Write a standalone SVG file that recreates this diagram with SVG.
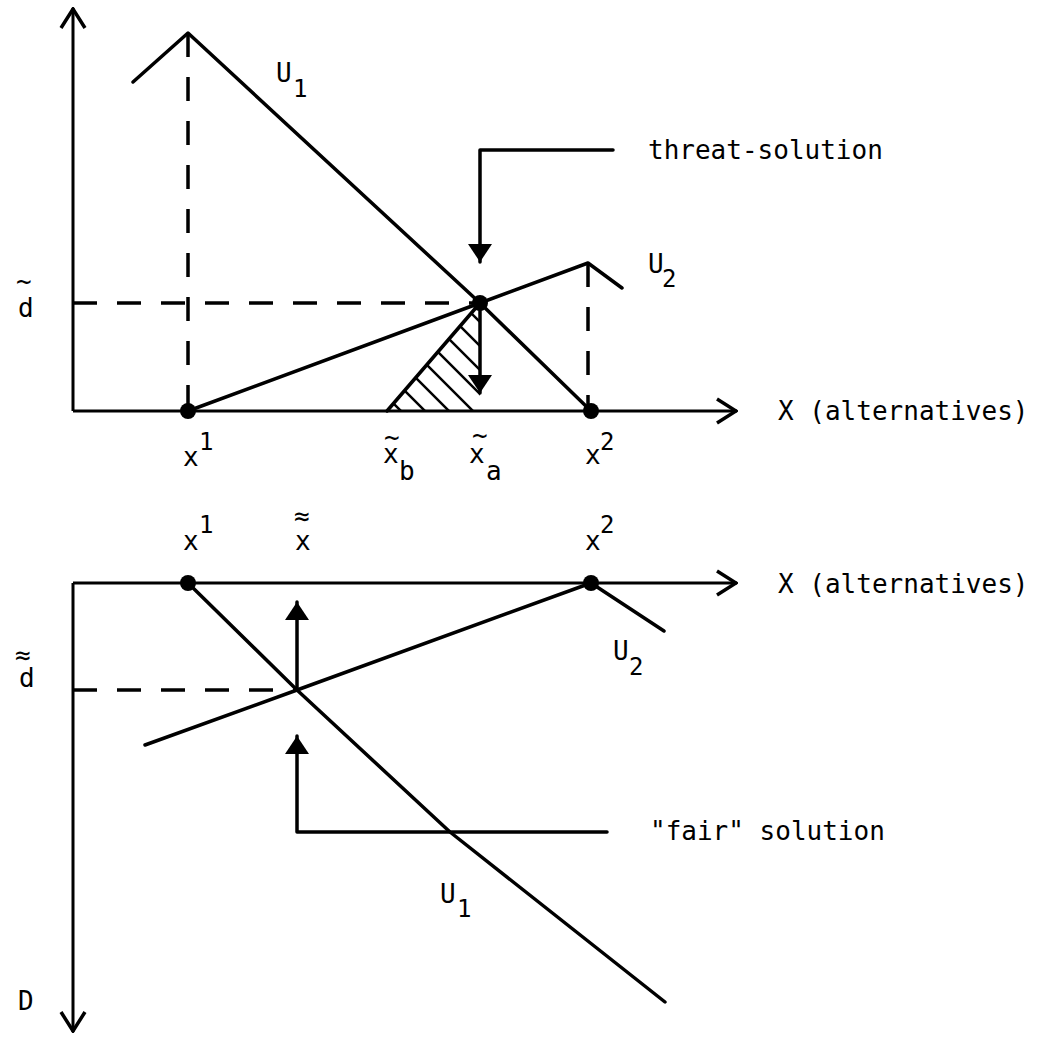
<svg xmlns="http://www.w3.org/2000/svg" width="1038" height="1044" viewBox="0 0 1038 1044">
<style>
.ln{stroke:#000;stroke-width:3.5;fill:none;stroke-linecap:round;stroke-linejoin:round}
.ax{stroke:#000;stroke-width:3;fill:none}
.ds{stroke:#000;stroke-width:3.5;fill:none;stroke-dasharray:24 20}
.th{stroke:#000;stroke-width:2.5;fill:none}
.dot{fill:#000}
text{font-family:"DejaVu Sans Mono","Liberation Mono",monospace;font-size:26px;fill:#000}
.sub{font-size:24px}
</style>
<defs>
<marker id="open" viewBox="0 0 22 28" refX="21" refY="14" markerWidth="22" markerHeight="28" markerUnits="userSpaceOnUse" orient="auto">
<path d="M1,2 L20,14 L1,26" stroke="#000" stroke-width="3.5" fill="none"/>
</marker>
<marker id="fill" viewBox="0 0 18 24" refX="18" refY="12" markerWidth="18" markerHeight="24" markerUnits="userSpaceOnUse" orient="auto">
<path d="M0,0 L18,12 L0,24 Z" fill="#000"/>
</marker>
<clipPath id="tri"><polygon points="387,411 480,303 480,411"/></clipPath>
</defs>
<rect width="1038" height="1044" fill="#fff"/>

<g id="top-chart">
<g id="top-axes">
<line class="ax" x1="73" y1="411" x2="73" y2="8" marker-end="url(#open)"/>
<line class="ax" x1="73" y1="411" x2="737" y2="411" marker-end="url(#open)"/>
</g>
<g id="top-dashes">
<line class="ds" x1="188" y1="33" x2="188" y2="411"/>
<line class="ds" x1="73" y1="303" x2="480" y2="303"/>
<line class="ds" x1="588" y1="263" x2="588" y2="411"/>
</g>
<g id="top-hatch" clip-path="url(#tri)">
<line class="th" x1="350" y1="360" x2="460" y2="470"/>
<line class="th" x1="350" y1="336" x2="484" y2="470"/>
<line class="th" x1="350" y1="312" x2="508" y2="470"/>
<line class="th" x1="350" y1="288" x2="532" y2="470"/>
<line class="th" x1="350" y1="264" x2="556" y2="470"/>
<line class="th" x1="350" y1="240" x2="580" y2="470"/>
<line class="th" x1="350" y1="216" x2="604" y2="470"/>
<line class="th" x1="350" y1="192" x2="628" y2="470"/>
</g>
<line class="ln" x1="387" y1="411" x2="480" y2="303"/>
<polyline id="top-U1" class="ln" points="133,82 188,33 480,303 591,411"/>
<polyline id="top-U2" class="ln" points="188,411 480,303 588,263 622,288"/>
<g id="top-points">
<circle class="dot" cx="188" cy="411" r="8"/>
<circle class="dot" cx="480" cy="303" r="8"/>
<circle class="dot" cx="591" cy="411" r="8"/>
</g>
<g id="threat-callout">
<polyline class="ln" points="613,150 480,150 480,262" marker-end="url(#fill)"/>
<line class="ln" x1="480" y1="303" x2="480" y2="393" marker-end="url(#fill)"/>
<text x="648" y="159">threat-solution</text>
</g>
<g id="top-labels">
<text><tspan x="276" y="82">U</tspan><tspan class="sub" x="293" y="97">1</tspan></text>
<text><tspan x="648" y="273">U</tspan><tspan class="sub" x="662" y="287">2</tspan></text>
<text x="16 18" y="290 317">~d</text>
<text><tspan x="183" y="466">x</tspan><tspan class="sub" x="199" y="450">1</tspan></text>
<text x="384 383 399" y="446 463 480">~xb</text>
<text x="472 469 486" y="444 463 480">~xa</text>
<text><tspan x="585" y="464">x</tspan><tspan class="sub" x="600" y="450">2</tspan></text>
<text x="778" y="420">X (alternatives)</text>
</g>
</g>

<g id="bottom-chart">
<g id="bottom-axes">
<line class="ax" x1="73" y1="583" x2="73" y2="1032" marker-end="url(#open)"/>
<line class="ax" x1="73" y1="583" x2="737" y2="583" marker-end="url(#open)"/>
</g>
<line class="ds" x1="73" y1="690" x2="297" y2="690"/>
<polyline id="bottom-U1" class="ln" points="188,583 297,690 450,832 665,1002"/>
<polyline id="bottom-U2" class="ln" points="145,745 297,690 591,583 664,631"/>
<g id="bottom-points">
<circle class="dot" cx="188" cy="583" r="8"/>
<circle class="dot" cx="591" cy="583" r="8"/>
</g>
<g id="fair-callout">
<line class="ln" x1="297" y1="690" x2="297" y2="602" marker-end="url(#fill)"/>
<polyline class="ln" points="607,832 297,832 297,736" marker-end="url(#fill)"/>
<text x="650" y="840">"fair" solution</text>
</g>
<g id="bottom-labels">
<text><tspan x="183" y="550">x</tspan><tspan class="sub" x="199" y="533">1</tspan></text>
<text x="294 295" y="525 550">≈x</text>
<text><tspan x="585" y="550">x</tspan><tspan class="sub" x="600" y="533">2</tspan></text>
<text x="778" y="593">X (alternatives)</text>
<text x="15 19" y="664 687">≈d</text>
<text><tspan x="613" y="660">U</tspan><tspan class="sub" x="629" y="675">2</tspan></text>
<text><tspan x="440" y="903">U</tspan><tspan class="sub" x="457" y="917">1</tspan></text>
<text x="18" y="1010">D</text>
</g>
</g>
</svg>
